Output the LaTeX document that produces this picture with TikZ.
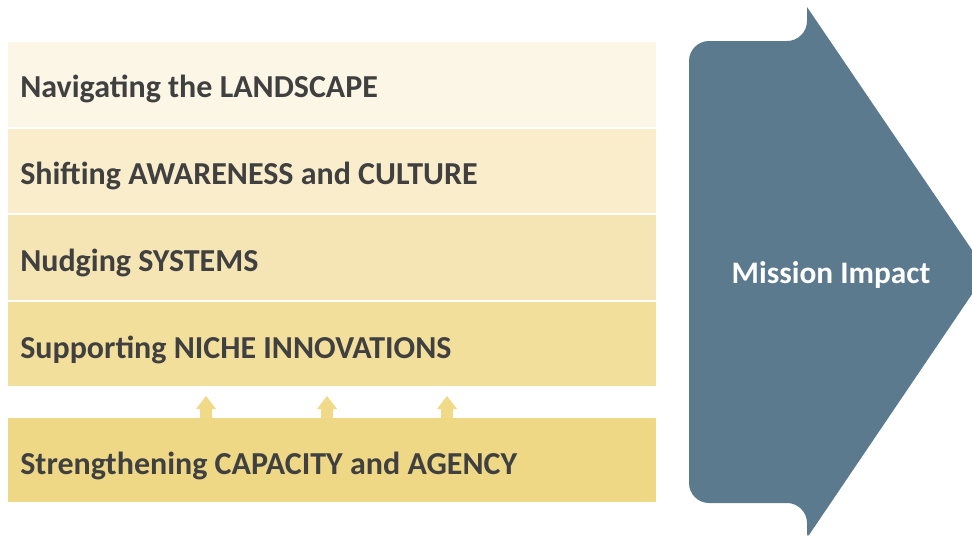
\documentclass[tikz,border=0pt]{standalone}
\usepackage{fontspec}
\setmainfont{Carlito}
\definecolor{rowA}{HTML}{FCF6E6}
\definecolor{rowB}{HTML}{F9EDCC}
\definecolor{rowC}{HTML}{F5E5B4}
\definecolor{rowD}{HTML}{F2DF9C}
\definecolor{rowE}{HTML}{EED886}
\definecolor{upar}{HTML}{F0D987}
\definecolor{bigar}{HTML}{5B7A8E}
\definecolor{txt}{HTML}{404040}
\begin{document}
\begin{tikzpicture}[x=0.75pt,y=-0.75pt,
  band/.style={fill=#1,draw=none},
  lbl/.style={anchor=west,text=txt,font=\fontsize{24}{28}\selectfont\bfseries,inner sep=0pt},
  uparrow/.style={fill=upar,draw=none}]
\useasboundingbox (0,0) rectangle (972,540);
\clip (0,0) rectangle (972,540);
\fill[band=rowA] (8,42) rectangle (656,127);
\fill[band=rowB] (8,129) rectangle (656,213);
\fill[band=rowC] (8,215) rectangle (656,300);
\fill[band=rowD] (8,302) rectangle (656,386);
\fill[band=rowE] (8,418) rectangle (656,502);
\node[lbl] (l1) at (20,89) {Navigating the LANDSCAPE};
\node[lbl] (l2) at (20,176) {Shifting AWARENESS and CULTURE};
\node[lbl] (l3) at (20,263) {Nudging SYSTEMS};
\node[lbl] (l4) at (20,350) {Supporting NICHE INNOVATIONS};
\node[lbl] (l5) at (20,466) {Strengthening CAPACITY and AGENCY};
\foreach \cx in {206,327,447}{
  \fill[uparrow] (\cx-6,418) -- (\cx-6,409) -- (\cx-10,409) -- (\cx,396) -- (\cx+10,409) -- (\cx+6,409) -- (\cx+6,418) -- cycle;
}
\fill[bigar] (689,61) .. controls (689,50) and (698,41) .. (709,41) -- (787,41)
  .. controls (798,41) and (807,32) .. (807,21) -- (807,7) -- (987,272) -- (809,535)
  .. controls (808,537) and (807,536) .. (807,532) -- (807,523)
  .. controls (807,512) and (798,503) .. (787,503) -- (709,503)
  .. controls (698,503) and (689,494) .. (689,483) -- cycle;
\node[text=white,font=\fontsize{23.5}{27}\selectfont\bfseries,inner sep=0pt] (mi) at (831,275) {Mission Impact};
\end{tikzpicture}
\end{document}
